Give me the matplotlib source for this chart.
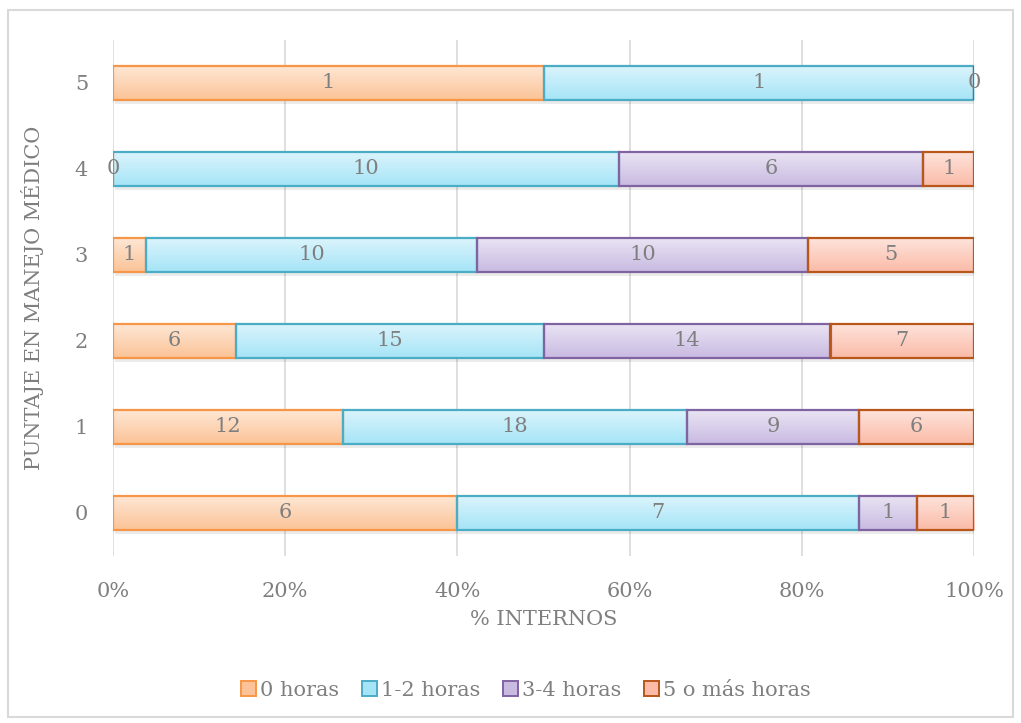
import numpy as np
import matplotlib.pyplot as plt
from matplotlib.colors import LinearSegmentedColormap
from matplotlib.patches import Rectangle, Patch

# Number of interns per score and hours category
scores = ['0', '1', '2', '3', '4', '5']
series = ['0 horas', '1-2 horas', '3-4 horas', '5 o más horas']
h0 = [6, 12, 6, 1, 0, 1]
h12 = [7, 18, 15, 10, 10, 1]
h34 = [1, 9, 14, 10, 6, 0]
h5 = [1, 6, 7, 5, 1, np.nan]

edge_colors = ['#f79646', '#4bacc6', '#8064a2', '#b9561a']
top_colors = ['#fee8d6', '#dcf5fc', '#ebe5f4', '#fee4dc']
bottom_colors = ['#fbc397', '#a5e4f7', '#c8bae1', '#fbbba8']
text_gray = '#7f7f7f'

plt.rcParams['font.family'] = ['DejaVu Serif']

counts = np.array([h0, h12, h34, h5], dtype=float)
totals = np.nansum(counts, axis=0)
shares = np.nan_to_num(counts) / totals * 100

fig = plt.figure(figsize=(10.21, 7.23), dpi=100)
ax = fig.add_axes([113 / 1021, 1 - 556 / 723, 861 / 1021, 516 / 723])

y = np.arange(len(scores))
bar_h = 0.4
left = np.zeros(len(scores))
grad = np.linspace(0, 1, 64).reshape(-1, 1)
for i, name in enumerate(series):
    # soft shadow under each segment
    ax.barh(y - 0.04, shares[i], left=left + 0.25, height=bar_h, color='#000000',
            alpha=0.08, linewidth=0, zorder=1)
    bars = ax.barh(y, shares[i], left=left, height=bar_h, color='none',
                   edgecolor=edge_colors[i], linewidth=1.6, zorder=3)
    cmap = LinearSegmentedColormap.from_list(name, [top_colors[i], bottom_colors[i]])
    for b in bars:
        if b.get_width() <= 0:
            continue
        x0, y0 = b.get_x(), b.get_y()
        # light at the top, darker at the bottom
        im = ax.imshow(grad, extent=[x0, x0 + b.get_width(), y0, y0 + bar_h],
                       cmap=cmap, aspect='auto', zorder=2, interpolation='bilinear')
        im.set_clip_path(b)
    for j in range(len(scores)):
        if np.isnan(counts[i, j]):
            continue
        xc = left[j] + shares[i, j] / 2
        ax.text(xc, y[j], f'{int(counts[i, j])}', ha='center', va='center',
                color=text_gray, fontsize=15, zorder=4)
    left += shares[i]

ax.set_xlim(0, 100)
ax.set_ylim(-0.5, 5.5)
ax.set_xticks(np.arange(0, 101, 20))
ax.set_xticklabels([f'{v}%' for v in range(0, 101, 20)])
ax.set_yticks(y)
ax.set_yticklabels(scores)
ax.tick_params(axis='both', length=0, colors=text_gray, labelsize=15)
ax.tick_params(axis='x', pad=19)
ax.tick_params(axis='y', pad=18)
ax.grid(axis='x', color='#d9d9d9', linewidth=1.2, zorder=0)
ax.set_axisbelow(True)
for s in ax.spines.values():
    s.set_visible(False)

ax.set_xlabel('% INTERNOS', color=text_gray, fontsize=15, labelpad=6)
ax.set_ylabel('PUNTAJE EN MANEJO MÉDICO', color=text_gray, fontsize=15, labelpad=22)

handles = [Patch(facecolor=bottom_colors[i], edgecolor=edge_colors[i], linewidth=1.4)
           for i in range(len(series))]
leg = fig.legend(handles, series, loc='center', bbox_to_anchor=(0.515, 1 - 690 / 723),
                 ncol=4, frameon=False, fontsize=15, handlelength=0.7, handleheight=0.7,
                 handletextpad=0.2, columnspacing=1.1)
for t in leg.get_texts():
    t.set_color(text_gray)

fig.patches.append(Rectangle((8 / 1021, 1 - 717 / 723), 1005 / 1021, 707 / 723,
                             transform=fig.transFigure, fill=False,
                             edgecolor='#d9d9d9', linewidth=1.5))

fig.savefig('out.png', dpi=100)
